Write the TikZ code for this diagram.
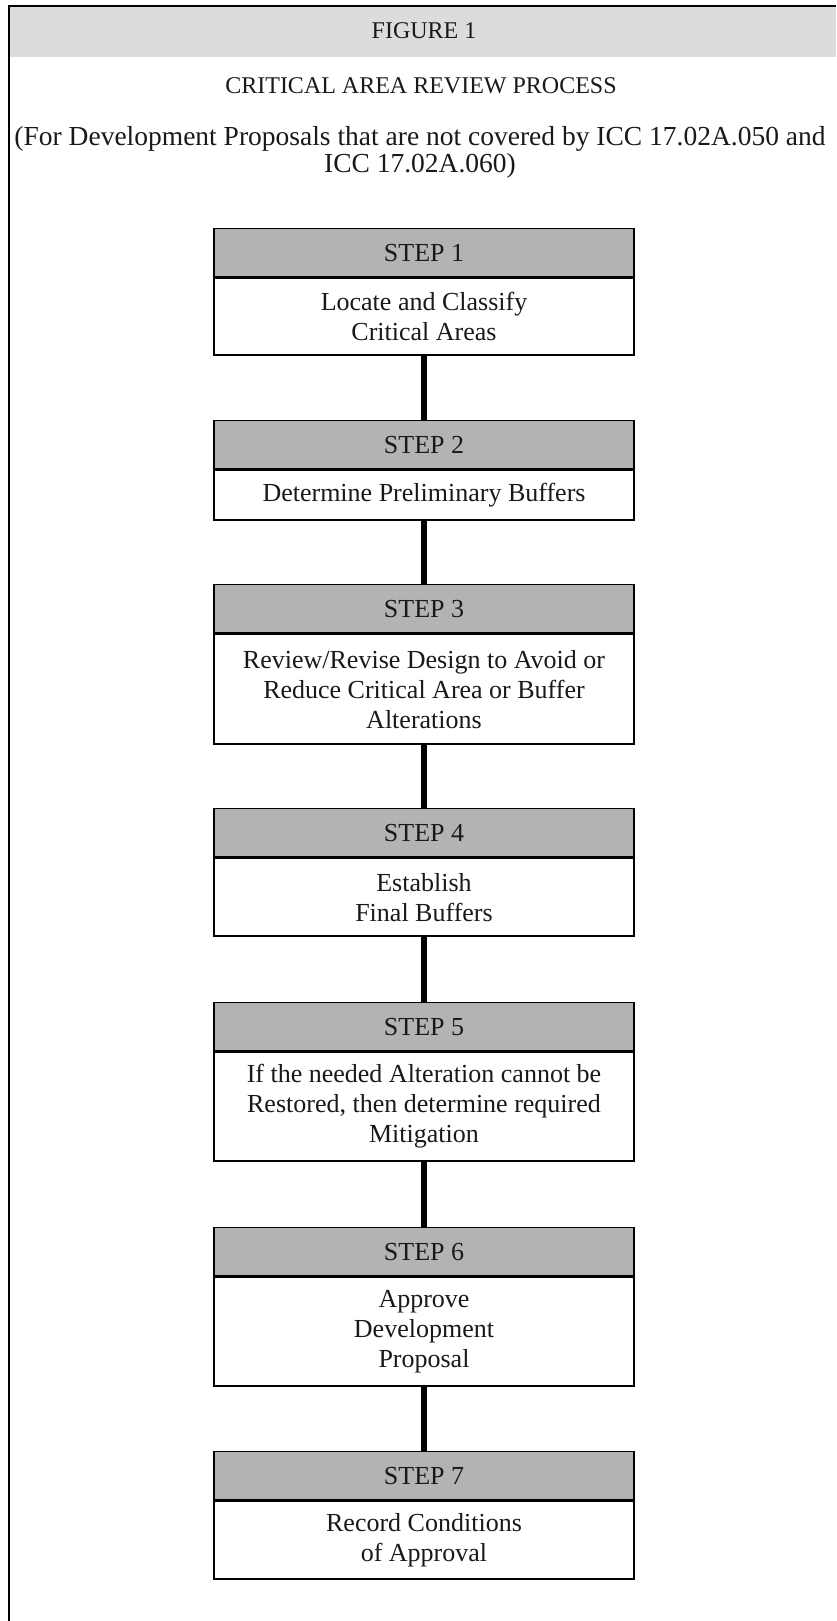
\documentclass[tikz,border=0pt]{standalone}
\usepackage{fontspec}
\setmainfont{Liberation Serif}
\usepackage{tikz}
\usetikzlibrary{positioning}
\definecolor{headgray}{RGB}{179,179,179}
\definecolor{bandgray}{RGB}{220,220,220}

\begin{document}
\begin{tikzpicture}[x=1pt,y=-1pt]

           \tikzstyle{every edge}=[-,draw,line width=6pt]
           \tikzstyle{every node}=[font=\fontsize{26}{30}\selectfont, text=black!90]
           \tikzstyle{titletext}=[font=\fontsize{24}{28}\selectfont]
           \tikzstyle{stephead}=[draw, line width=1.4pt, fill=headgray, minimum width=420pt, minimum height=48pt, anchor=north, inner sep=0pt]
           \tikzstyle{stepbody}=[draw, line width=1.4pt, fill=white, minimum width=420pt, anchor=north, align=center, inner sep=0pt]

    \useasboundingbox (0,0) rectangle (836,1621);

    % frame and title band
    \fill[bandgray] (9,6) rectangle (836,57);
    \draw[line width=2pt] (9,6) -- (836,6);
    \draw[line width=1.6pt] (9,5) -- (9,1621);

    \node[titletext] (fig) at (424,31) {FIGURE 1};
    \node[titletext] (title) at (421,86) {CRITICAL AREA REVIEW PROCESS};
    \node[align=center, font=\fontsize{27.5}{27}\selectfont] (sub) at (420,152) {(For Development Proposals that are not covered by ICC 17.02A.050 and\\ICC 17.02A.060)};

    \node[stephead] (head1) at (424,228) {STEP 1};
    \node[stepbody, minimum height=77pt] (body1) at (head1.south) {Locate and Classify\\Critical Areas};
    \node[stephead] (head2) at (424,420) {STEP 2};
    \node[stepbody, minimum height=50pt] (body2) at (head2.south) {Determine Preliminary Buffers};
    \node[stephead] (head3) at (424,584) {STEP 3};
    \node[stepbody, minimum height=110pt] (body3) at (head3.south) {Review/Revise Design to Avoid or\\Reduce Critical Area or Buffer\\Alterations};
    \node[stephead] (head4) at (424,808) {STEP 4};
    \node[stepbody, minimum height=78pt] (body4) at (head4.south) {Establish\\Final Buffers};
    \node[stephead] (head5) at (424,1002) {STEP 5};
    \node[stepbody, minimum height=109pt] (body5) at (head5.south) {If the needed Alteration cannot be\\Restored, then determine required\\Mitigation};
    \node[stephead] (head6) at (424,1227) {STEP 6};
    \node[stepbody, minimum height=109pt] (body6) at (head6.south) {Approve\\Development\\Proposal};
    \node[stephead] (head7) at (424,1451) {STEP 7};
    \node[stepbody, minimum height=78pt] (body7) at (head7.south) {Record Conditions\\of Approval};

    \path (body1) edge (head2);
    \path (body2) edge (head3);
    \path (body3) edge (head4);
    \path (body4) edge (head5);
    \path (body5) edge (head6);
    \path (body6) edge (head7);
\end{tikzpicture}
\end{document}
